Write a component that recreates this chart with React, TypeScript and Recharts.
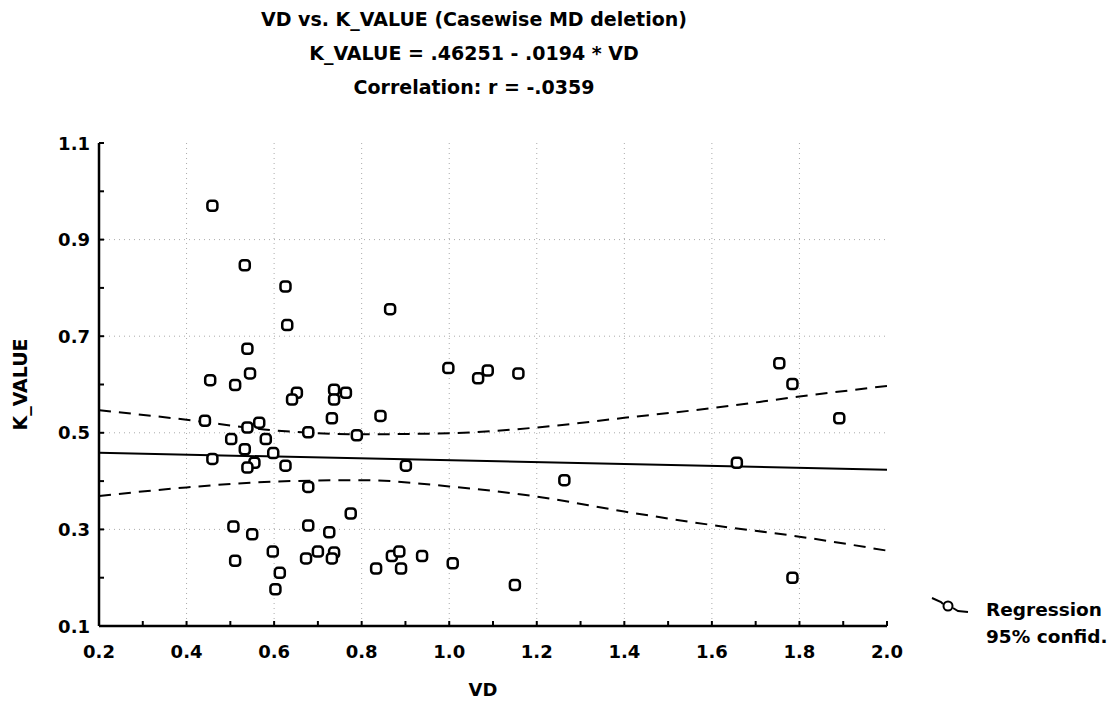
import React from 'react';
import { ComposedChart, Scatter, Line, XAxis, YAxis, CartesianGrid } from 'recharts';

// ---- data ----
const vdValues = [
  0.459, 0.533, 0.626, 0.630, 0.865, 0.539, 0.545, 0.454, 0.511, 0.652,
  0.641, 0.737, 0.764, 0.737, 0.998, 1.066, 1.088, 1.158, 1.754, 1.784,
  1.891, 0.732, 0.843, 0.442, 0.566, 0.539, 0.678, 0.789, 0.502, 0.581,
  0.533, 0.598, 0.459, 0.555, 0.539, 0.626, 0.901, 1.263, 1.657, 0.678,
  0.775, 0.507, 0.550, 0.678, 0.726, 0.597, 0.511, 0.673, 0.700, 0.737,
  0.732, 0.613, 0.603, 0.833, 0.869, 0.886, 0.890, 0.938, 1.008, 1.150,
  1.784,
];
const kValues = [
  0.970, 0.847, 0.803, 0.723, 0.756, 0.674, 0.623, 0.609, 0.599, 0.583,
  0.569, 0.589, 0.583, 0.569, 0.634, 0.613, 0.629, 0.623, 0.644, 0.601,
  0.530, 0.530, 0.535, 0.525, 0.521, 0.511, 0.501, 0.495, 0.487, 0.487,
  0.466, 0.458, 0.446, 0.438, 0.428, 0.432, 0.432, 0.402, 0.438, 0.388,
  0.333, 0.306, 0.290, 0.308, 0.294, 0.254, 0.235, 0.240, 0.254, 0.252,
  0.240, 0.210, 0.176, 0.219, 0.245, 0.254, 0.219, 0.245, 0.230, 0.185,
  0.200,
];

const regX = [0.2, 2.0];
const regY = [0.4586, 0.4237];

const bandX = [0.2, 0.4, 0.6, 0.8, 1.0, 1.2, 1.4, 1.6, 1.8, 2.0];
const upperBand = [0.547, 0.527, 0.505, 0.497, 0.499, 0.511, 0.531, 0.551, 0.575, 0.597];
const lowerBand = [0.369, 0.387, 0.399, 0.402, 0.389, 0.368, 0.337, 0.309, 0.285, 0.256];

const xTicks = [0.2, 0.3, 0.4, 0.5, 0.6, 0.7, 0.8, 0.9, 1.0, 1.1, 1.2, 1.3, 1.4, 1.5, 1.6, 1.7, 1.8, 1.9, 2.0];
const xTickLabels = ['0.2', '0.4', '0.6', '0.8', '1.0', '1.2', '1.4', '1.6', '1.8', '2.0'];
const yTicks = [0.1, 0.2, 0.3, 0.4, 0.5, 0.6, 0.7, 0.8, 0.9, 1.0, 1.1];
const yTickLabels = ['0.1', '0.3', '0.5', '0.7', '0.9', '1.1'];
const xGrid = [0.4, 0.6, 0.8, 1.0, 1.2, 1.4, 1.6, 1.8];
const yGrid = [0.3, 0.5, 0.7, 0.9];

const titleLines = [
  'VD vs. K_VALUE (Casewise MD deletion)',
  'K_VALUE = .46251 - .0194 * VD',
  'Correlation: r = -.0359',
];

// ---- derived tables ----
const points = vdValues.map((x, i) => ({ x, y: kValues[i] }));
const regData = regX.map((x, i) => ({ x, y: regY[i] }));
const upperData = bandX.map((x, i) => ({ x, y: upperBand[i] }));
const lowerData = bandX.map((x, i) => ({ x, y: lowerBand[i] }));

const FONT = '"DejaVu Sans", Verdana, sans-serif';
const W = 1104;
const H = 695;
const TICK_FS = 18;

const fmt = (v: number) => v.toFixed(1);

const BottomTick = (props: any) => {
  const { x, y, payload } = props;
  const label = fmt(payload.value);
  const show = xTickLabels.includes(label);
  return (
    <g>
      <line x1={x} x2={x} y1={y} y2={y - 5} stroke="#000" strokeWidth={2} />
      {show && (
        <text x={x} y={y + 25} textAnchor="middle" dominantBaseline="central"
          fontFamily={FONT} fontWeight="bold" fontSize={TICK_FS} fill="#000">{label}</text>
      )}
    </g>
  );
};
const TopTick = (props: any) => {
  const { x, y } = props;
  return <line x1={x} x2={x} y1={y} y2={y + 5} stroke="#000" strokeWidth={2} />;
};
const LeftTick = (props: any) => {
  const { x, y, payload } = props;
  const label = fmt(payload.value);
  const show = yTickLabels.includes(label);
  return (
    <g>
      <line x1={x} x2={x + 5} y1={y} y2={y} stroke="#000" strokeWidth={2} />
      {show && (
        <text x={x - 9} y={y} textAnchor="end" dominantBaseline="central"
          fontFamily={FONT} fontWeight="bold" fontSize={TICK_FS} fill="#000">{label}</text>
      )}
    </g>
  );
};
const RightTick = (props: any) => {
  const { x, y } = props;
  return <line x1={x} x2={x - 5} y1={y} y2={y} stroke="#000" strokeWidth={2} />;
};

const Marker = (props: any) => {
  const { cx, cy } = props;
  if (cx == null || cy == null) return null;
  return (
    <rect x={cx - 5} y={cy - 5} width={10} height={10} rx={3.2} ry={3.2}
      fill="#fff" stroke="#000" strokeWidth={2.5} />
  );
};

const textStyle = { fontFamily: FONT, fontWeight: 'bold' as const, color: '#000', whiteSpace: 'nowrap' as const };

export default function App() {
  return (
    <div style={{ position: 'relative', width: W, height: H, background: '#fff' }}>
      {titleLines.map((t, i) => (
        <div key={i} style={{
          ...textStyle, position: 'absolute', left: 0, width: 932, top: i * 34 - 1, height: 24,
          lineHeight: '24px', textAlign: 'center', fontSize: 19,
        }}>{t}</div>
      ))}
      <div style={{ position: 'absolute', left: 0, top: 0 }}>
        <ComposedChart width={W} height={H}
          margin={{ top: 135, right: 225, bottom: 0, left: 0 }}>
          <CartesianGrid stroke="#aaa" strokeDasharray="1 4" strokeWidth={1}
            verticalValues={xGrid} horizontalValues={yGrid} />
          <XAxis type="number" dataKey="x" domain={[0.2, 2.0]} ticks={xTicks}
            allowDataOverflow interval={0} height={77} tickSize={0} tickMargin={0}
            axisLine={{ stroke: '#000', strokeWidth: 2.5 }} tick={<BottomTick />}
            label={{ value: 'VD', position: 'insideBottom', offset: 7, dx: -10,
              style: { fontFamily: FONT, fontWeight: 'bold', fontSize: 18, fill: '#000' } }} />
          <XAxis xAxisId="top" orientation="top" type="number" domain={[0.2, 2.0]} ticks={xTicks}
            allowDataOverflow interval={0} height={0} tickSize={0} tickMargin={0}
            axisLine={{ stroke: '#000', strokeWidth: 2.5 }} tick={<TopTick />} />
          <YAxis type="number" dataKey="y" domain={[0.1, 1.1]} ticks={yTicks}
            allowDataOverflow interval={0} width={91} tickSize={0} tickMargin={0}
            axisLine={{ stroke: '#000', strokeWidth: 2.5 }} tick={<LeftTick />}
            label={{ value: 'K_VALUE', angle: -90, position: 'insideLeft', offset: 12,
              style: { textAnchor: 'middle', fontFamily: FONT, fontWeight: 'bold', fontSize: 19, fill: '#000' } }} />
          <YAxis yAxisId="right" orientation="right" type="number" domain={[0.1, 1.1]} ticks={yTicks}
            allowDataOverflow interval={0} width={0} tickSize={0} tickMargin={0}
            axisLine={{ stroke: '#000', strokeWidth: 2.5 }} tick={<RightTick />} />
          <Line data={upperData} dataKey="y" type="monotone" stroke="#000" strokeWidth={2}
            strokeDasharray="12 8" dot={false} activeDot={false} isAnimationActive={false} />
          <Line data={lowerData} dataKey="y" type="monotone" stroke="#000" strokeWidth={2}
            strokeDasharray="12 8" dot={false} activeDot={false} isAnimationActive={false} />
          <Line data={regData} dataKey="y" type="linear" stroke="#000" strokeWidth={2}
            dot={false} activeDot={false} isAnimationActive={false} />
          <Scatter data={points} dataKey="y" shape={<Marker />} isAnimationActive={false} />
        </ComposedChart>
      </div>
      <svg style={{ position: 'absolute', left: 920, top: 585 }} width={60} height={30}>
        <polyline points="4,5 13,9 15,11" fill="none" stroke="#000" strokeWidth={2} />
        <circle cx={20} cy={13} r={4.5} fill="#fff" stroke="#000" strokeWidth={2} />
        <polyline points="25,15 30,18 40,19" fill="none" stroke="#000" strokeWidth={2} />
      </svg>
      <div style={{ ...textStyle, position: 'absolute', left: 978, top: 590, lineHeight: '24px',
        fontSize: 18.5 }}>Regression</div>
      <div style={{ ...textStyle, position: 'absolute', left: 978, top: 617, lineHeight: '24px',
        fontSize: 18.5 }}>95% confid.</div>
    </div>
  );
}
